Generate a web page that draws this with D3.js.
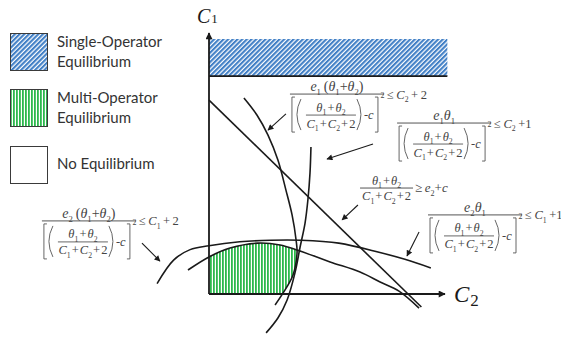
<!DOCTYPE html>
<meta charset="utf-8">
<head>
  <title>Equilibrium regions</title>
</head>

<style>
body { margin: 0; background: #fff; }
.legend text {
  font-family: Lato, "Open Sans", sans-serif;
  font-size: 15px;
  fill: #333;
}
.math text {
  font-family: "Liberation Serif", "DejaVu Serif", serif;
  fill: #444;
  white-space: pre;
}
.curve {
  fill: none;
  stroke: #1a1a1a;
  stroke-width: 1.6;
}
</style>

<body>
  <svg width="561" height="344"></svg>

  <script src="https://cdnjs.cloudflare.com/ajax/libs/d3/7.8.5/d3.min.js"></script>
  <script>
// legend entries
var legendLabels = [['Single-Operator', 'Equilibrium'], ['Multi-Operator', 'Equilibrium'], ['No Equilibrium']];
var legendFills = ['url(#hatchBlue)', 'url(#stripeGreen)', '#fff'];

// boundary curves, [C2, C1] in axis units (0..100)
var arcA = [[-22, 4], [-15, 13], [-8, 17], [0, 18.5], [13, 20], [26, 20.6], [39, 20.6], [55, 19.5], [72, 16], [83, 13.3], [94, 10]];
var arcB = [[-8.9, 9.2], [0, 14.2], [8.9, 17.6], [20.8, 19.5], [30.1, 18.8], [37.3, 16.9], [51.3, 12.3], [64, 8.4], [72.5, 4.6], [80.5, 1.1], [89, -5.4]];
var sumLine = [[0, 74.3], [90, -5]];
var curveC = [[14.8, 75.1], [20.3, 68.6], [25, 60.9], [29.2, 51.3], [32.6, 39.8], [35.2, 30.3], [36.9, 20.7], [37.3, 15.7], [35.6, 7.3], [31.4, 0.4], [28, -4.2]];
var curveD = [[43.2, 56.3], [42.8, 46.4], [41.9, 36], [40.7, 27.2], [38.6, 18], [36.4, 8], [33.1, -2.3], [29.2, -9.2], [24.2, -14.9]];

// single-operator band (C2 from, C2 to, C1 from, C1 to)
var singleBand = [0, 101, 83.5, 97.7];

// formula labels
var fracNums = ['e_1 (θ_1+θ_2)', 'e_1θ_1', 'e_2θ_1', 'e_2 (θ_1+θ_2)'];
var fracRhs = ['≤ C_2 + 2', '≤ C_2 +1', '≤ C_1 +1', '≤ C_1 + 2'];
var fracPos = [[34.3, 76.6], [79.7, 65.5], [92.8, 30.3], [-70.8, 28]];
var sumLabel = ['θ_1 + θ_2', 'C_1 + C_2 + 2', '≥ e_2+c'];
var sumPos = [64, 40.6];

// pointer arrows [from, to]
var pointers = [
  [[32.6, 69], [25, 62.8]],
  [[69.5, 57.5], [50, 51.7]],
  [[63.1, 34.1], [56.4, 28.4]],
  [[89, 23.8], [83.9, 14.6]],
  [[-28.4, 19.5], [-20.8, 12.6]]
];

var svg = d3.select('svg');

var x = d3.scaleLinear().domain([0, 100]).range([209, 445]);
var y = d3.scaleLinear().domain([0, 100]).range([294, 33]);

var line = d3.line()
  .x(function(d) { return x(d[0]); })
  .y(function(d) { return y(d[1]); })
  .curve(d3.curveCatmullRom.alpha(0.5));

var defs = svg.append('defs');

var hatch = defs.append('pattern')
  .attr('id', 'hatchBlue')
  .attr('patternUnits', 'userSpaceOnUse')
  .attr('width', 3.3).attr('height', 3.3)
  .attr('patternTransform', 'rotate(45)');
hatch.append('rect').attr('width', 3.3).attr('height', 3.3).attr('fill', '#fff');
hatch.append('rect').attr('width', 2.1).attr('height', 3.3).attr('fill', '#4280c6');

var stripe = defs.append('pattern')
  .attr('id', 'stripeGreen')
  .attr('patternUnits', 'userSpaceOnUse')
  .attr('width', 3).attr('height', 3);
stripe.append('rect').attr('width', 3).attr('height', 3).attr('fill', '#fff');
stripe.append('rect').attr('width', 1.8).attr('height', 3).attr('fill', '#2db84d');

function marker(id, w, h) {
  defs.append('marker')
    .attr('id', id)
    .attr('viewBox', '0 0 10 10')
    .attr('refX', 9).attr('refY', 5)
    .attr('markerUnits', 'userSpaceOnUse')
    .attr('markerWidth', w).attr('markerHeight', h)
    .attr('orient', 'auto')
    .append('path')
    .attr('d', 'M0,0L10,5L0,10z')
    .attr('fill', '#1a1a1a');
}
marker('axisHead', 9, 7);
marker('pointHead', 7, 6);

// green region: below arc B, left of curve C
var last = arcB[arcB.length - 1];
defs.append('clipPath').attr('id', 'underB')
  .append('path')
  .attr('d', line(arcB) + 'L' + x(last[0]) + ',' + y(-30) + 'L' + x(arcB[0][0]) + ',' + y(-30) + 'Z');
var lastC = curveC[curveC.length - 1];
defs.append('clipPath').attr('id', 'leftOfC')
  .append('path')
  .attr('d', line(curveC) + 'L' + x(-20) + ',' + y(lastC[1]) + 'L' + x(-20) + ',' + y(curveC[0][1]) + 'Z');

svg.append('g')
  .attr('clip-path', 'url(#underB)')
  .append('rect')
  .attr('clip-path', 'url(#leftOfC)')
  .attr('x', x(0)).attr('y', y(40))
  .attr('width', x(60) - x(0)).attr('height', y(0) - y(40))
  .attr('fill', 'url(#stripeGreen)');

// single-operator band
svg.append('rect')
  .attr('x', x(singleBand[0])).attr('y', y(singleBand[3]))
  .attr('width', x(singleBand[1]) - x(singleBand[0]))
  .attr('height', y(singleBand[2]) - y(singleBand[3]))
  .attr('fill', 'url(#hatchBlue)');
svg.append('line')
  .attr('x1', x(singleBand[0])).attr('x2', x(singleBand[1]))
  .attr('y1', y(singleBand[2])).attr('y2', y(singleBand[2]))
  .attr('stroke', '#1a1a1a').attr('stroke-width', 1.8);

// curves
svg.selectAll('path.curve')
  .data([arcA, arcB, curveC, curveD])
  .enter()
  .append('path')
  .attr('class', 'curve')
  .attr('d', line);

svg.append('path')
  .attr('class', 'curve')
  .attr('d', d3.line().x(function(d) { return x(d[0]); }).y(function(d) { return y(d[1]); })(sumLine));

// axes
svg.append('line')
  .attr('x1', x(0)).attr('y1', y(0)).attr('x2', x(0)).attr('y2', y(100))
  .attr('stroke', '#1a1a1a').attr('stroke-width', 1.8)
  .attr('marker-end', 'url(#axisHead)');
svg.append('line')
  .attr('x1', x(0)).attr('y1', y(0)).attr('x2', x(100)).attr('y2', y(0))
  .attr('stroke', '#1a1a1a').attr('stroke-width', 1.8)
  .attr('marker-end', 'url(#axisHead)');

// axis titles
var t1 = svg.append('text').attr('x', 197).attr('y', 23)
  .attr('font-family', '"Liberation Serif", serif').attr('fill', '#1a1a1a');
t1.append('tspan').attr('font-size', 20).attr('font-style', 'italic').text('C');
t1.append('tspan').attr('font-size', 13).attr('dx', 1).text('1');

var t2 = svg.append('text').attr('x', 454).attr('y', 302)
  .attr('font-family', '"Liberation Serif", serif').attr('fill', '#1a1a1a');
t2.append('tspan').attr('font-size', 23).attr('font-style', 'italic').text('C');
t2.append('tspan').attr('font-size', 17).attr('dx', 1).attr('dy', 4).text('2');

// pointer arrows
svg.selectAll('line.pointer')
  .data(pointers)
  .enter()
  .append('line')
  .attr('class', 'pointer')
  .attr('x1', function(d) { return x(d[0][0]); })
  .attr('y1', function(d) { return y(d[0][1]); })
  .attr('x2', function(d) { return x(d[1][0]); })
  .attr('y2', function(d) { return y(d[1][1]); })
  .attr('stroke', '#1a1a1a').attr('stroke-width', 1.1)
  .attr('marker-end', 'url(#pointHead)');

// formula text helper: "_x" makes x a subscript
function mathText(g, px, py, str, size, anchor, gap) {
  var t = g.append('text')
    .attr('x', px).attr('y', py)
    .attr('font-size', size)
    .attr('text-anchor', anchor || 'start');
  var sub = false, cur = 0, off = size * 0.28;
  for (var i = 0; i < str.length; i++) {
    var ch = str[i];
    if (ch === '_') { sub = true; continue; }
    var ts = t.append('tspan').text(ch === ' ' ? (gap || '\u2009') : ch);
    if (sub) {
      ts.attr('dy', off - cur).attr('font-size', size * 0.62);
      cur = off;
      sub = false;
    } else {
      if (cur) { ts.attr('dy', -cur); cur = 0; }
      if (/[A-Za-zθ]/.test(ch)) ts.attr('font-style', 'italic');
    }
  }
  return t;
}

var math = svg.append('g').attr('class', 'math');
var ink = '#555';
var hair = '\u200A';

function bracketFrac(num, rhs, pos) {
  var bx = x(pos[0]), by = y(pos[1]);
  var g = math.append('g');
  g.append('line').attr('x1', bx).attr('x2', bx + 94).attr('y1', by).attr('y2', by)
    .attr('stroke', ink).attr('stroke-width', 1);
  mathText(g, bx + 47, by - 3, num, 14, 'middle');
  g.append('path')
    .attr('d', 'M' + (bx + 5) + ',' + (by + 3) + 'H' + (bx + 2) + 'V' + (by + 38) + 'H' + (bx + 5) +
      'M' + (bx + 85) + ',' + (by + 3) + 'H' + (bx + 88) + 'V' + (by + 38) + 'H' + (bx + 85) +
      'M' + (bx + 11) + ',' + (by + 5) + 'Q' + (bx + 3) + ',' + (by + 20.5) + ' ' + (bx + 11) + ',' + (by + 36) +
      'M' + (bx + 67) + ',' + (by + 5) + 'Q' + (bx + 75) + ',' + (by + 20.5) + ' ' + (bx + 67) + ',' + (by + 36))
    .attr('fill', 'none').attr('stroke', ink).attr('stroke-width', 0.9);
  g.append('line').attr('x1', bx + 16).attr('x2', bx + 66).attr('y1', by + 21).attr('y2', by + 21)
    .attr('stroke', ink).attr('stroke-width', 0.9);
  mathText(g, bx + 41, by + 17.5, 'θ_1 + θ_2', 12.5, 'middle', hair);
  mathText(g, bx + 41, by + 33.5, 'C_1 + C_2 + 2', 12.5, 'middle', hair);
  mathText(g, bx + 74, by + 25, '-c', 12.5);
  mathText(g, bx + 90.5, by + 4, '2', 8);
  mathText(g, bx + 97, by + 4.5, rhs, 12.5);
}

fracNums.forEach(function(n, i) { bracketFrac(n, fracRhs[i], fracPos[i]); });

var sg = math.append('g');
var sx = x(sumPos[0]), sy = y(sumPos[1]);
sg.append('line').attr('x1', sx).attr('x2', sx + 53).attr('y1', sy).attr('y2', sy)
  .attr('stroke', ink).attr('stroke-width', 1);
mathText(sg, sx + 26.5, sy - 3.5, sumLabel[0], 12.5, 'middle', hair);
mathText(sg, sx + 26.5, sy + 12, sumLabel[1], 12.5, 'middle', hair);
mathText(sg, sx + 55, sy + 4, sumLabel[2], 13);

// legend
var legend = svg.append('g').attr('class', 'legend');
var items = legend.selectAll('g')
  .data(legendLabels)
  .enter()
  .append('g')
  .attr('transform', function(d, i) { return 'translate(10,' + [33, 89, 146][i] + ')'; });

items.append('rect')
  .attr('x', 0.5).attr('y', 0.5)
  .attr('width', 37).attr('height', 37)
  .attr('fill', function(d, i) { return legendFills[i]; })
  .attr('stroke', '#3a3a3a').attr('stroke-width', 1);

items.each(function(d) {
  var g = d3.select(this);
  d.forEach(function(s, j) {
    g.append('text')
      .attr('x', 47)
      .attr('y', d.length === 1 ? 23 : 14 + j * 20)
      .text(s);
  });
});
  </script>
</body>
</html>
